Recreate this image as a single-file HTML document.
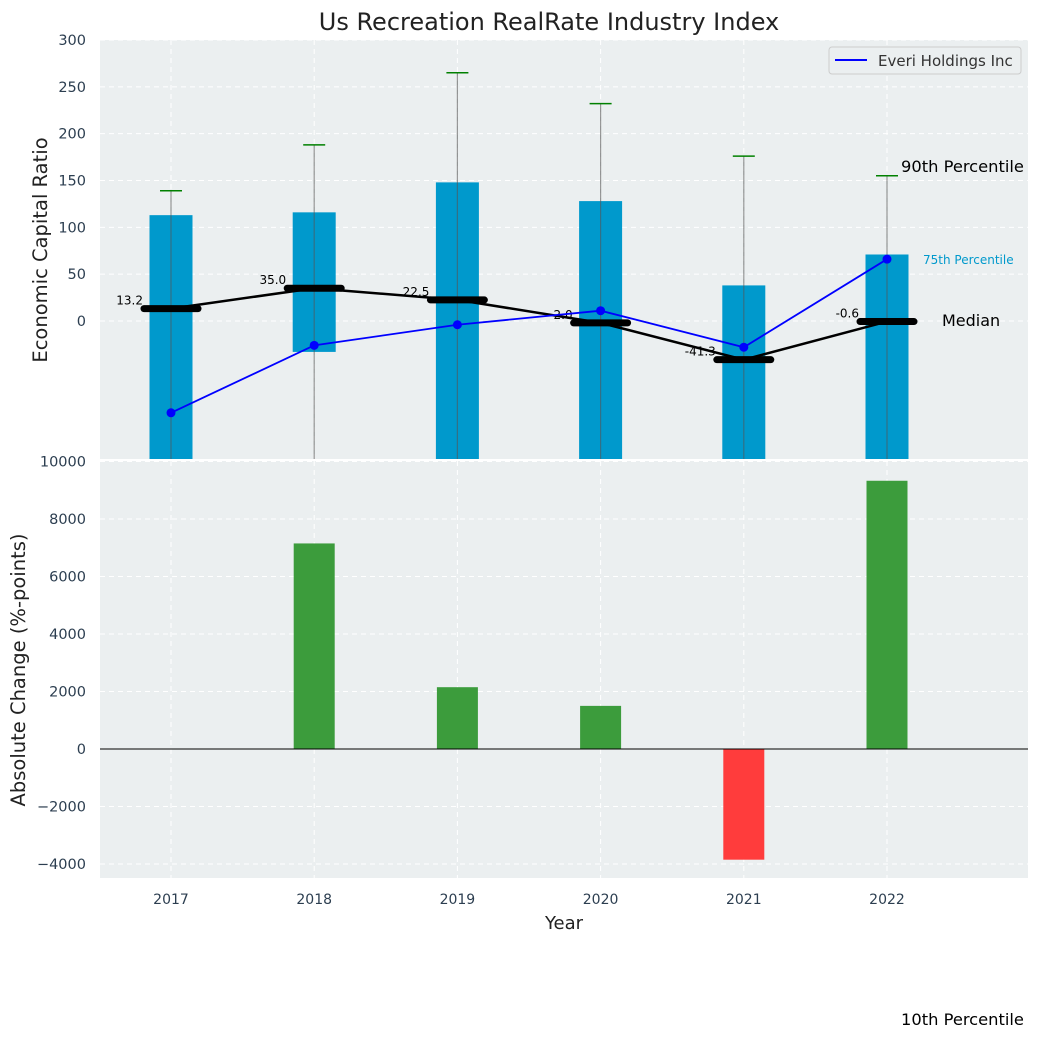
<!DOCTYPE html>
<html><head><meta charset="utf-8"><style>
body{margin:0;background:#fff;font-family:"Liberation Sans","DejaVu Sans",sans-serif}
svg text{font-family:"DejaVu Sans","Liberation Sans",sans-serif}
</style></head><body>
<svg id="c" width="1039" height="1039" xmlns="http://www.w3.org/2000/svg">
<rect width="1039" height="1039" fill="#fff"/>
<text x="549" y="30" font-size="24" text-anchor="middle" fill="#222">Us Recreation RealRate Industry Index</text>
<rect x="100" y="40" width="928" height="419" fill="#ebeff0"/>
<rect x="100" y="461" width="928" height="417" fill="#ebeff0"/>
<g id="topg"></g><g id="botg"></g>
<text transform="translate(47,250) rotate(-90)" font-size="19.5" text-anchor="middle" fill="#222">Economic Capital Ratio</text>
<text transform="translate(25,670) rotate(-90)" font-size="19.5" text-anchor="middle" fill="#222">Absolute Change (%-points)</text>
<text x="564" y="929" font-size="18" text-anchor="middle" fill="#222">Year</text>
<text x="901" y="172" font-size="16.3" fill="#000">90th Percentile</text>
<text x="923" y="264" font-size="12" fill="#0099cc">75th Percentile</text>
<text x="942" y="326" font-size="16" fill="#000">Median</text>
<text x="901" y="1025" font-size="16.3" fill="#000">10th Percentile</text>
<g>
<rect x="829" y="47" width="192" height="27" rx="3" fill="#ebeff0" stroke="#ccc"/>
<line x1="835" y1="60" x2="867" y2="60" stroke="#0000ff" stroke-width="2"/>
<text x="878" y="66" font-size="15" fill="#333">Everi Holdings Inc</text>
</g>
</svg>
<script>
const years=["2017","2018","2019","2020","2021","2022"];
const p10=[-200,-200,-200,-200,-200,-200];
const p25=[-200,-33,-200,-200,-200,-200];
const p75=[113,116,148,128,38,71];
const p90=[139,188,265,232,176,155];
const median=[13.2,35.0,22.5,-2.0,-41.3,-0.6];
const medianLabels=["13.2","35.0","22.5","-2.0","-41.3","-0.6"];
const everi=[-98,-26,-4,11,-28,66];
const change=[0,7150,2150,1500,-3850,9330];
const topTicks=[0,50,100,150,200,250,300];
const botTicks=[-4000,-2000,0,2000,4000,6000,8000,10000];
const NS="http://www.w3.org/2000/svg";
const X=i=>171+i*143.2;
const Yt=v=>321-v*0.9367;
const Yb=v=>749-v*0.02875;
const topG=document.getElementById('topg'),botG=document.getElementById('botg');
function mk(p,t,a){const e=document.createElementNS(NS,t);for(const k in a)e.setAttribute(k,a[k]);p.appendChild(e);return e;}
topTicks.forEach(v=>{const l=mk(topG,'line',{x1:100,x2:1028,y1:Yt(v),y2:Yt(v),stroke:'#fff','stroke-dasharray':'5,4'});


const t=mk(topG,'text',{x:86,y:Yt(v)+5,'font-size':14.5,fill:'#2c3e50','text-anchor':'end'});t.textContent=v;

});
botTicks.forEach(v=>{const l=mk(botG,'line',{x1:100,x2:1028,y1:Yb(v),y2:Yb(v),stroke:'#fff','stroke-dasharray':'5,4'});


const t=mk(botG,'text',{x:86,y:Yb(v)+5,'font-size':14.5,fill:'#2c3e50','text-anchor':'end'});t.textContent=(v<0?'\u2212'+(-v):v);

});
years.forEach((y,i)=>{[[topG,40,459],[botG,461,878]].forEach(([g,a,b])=>{const l=mk(g,'line',{x1:X(i),x2:X(i),y1:a,y2:b,stroke:'#fff','stroke-dasharray':'5,4'});

});
const t=mk(botG,'text',{x:X(i),y:904,'font-size':14,fill:'#2c3e50','text-anchor':'middle'});t.textContent=y;

});
const cl=mk(topG,'clipPath',{id:'ct'});mk(cl,'rect',{x:100,y:40,width:928,height:419});
const tg=mk(topG,'g',{'clip-path':'url(#ct)'});
years.forEach((y,i)=>{
 const b=mk(tg,'rect',{x:X(i)-21.5,width:43,y:Yt(p75[i]),height:Yt(p25[i])-Yt(p75[i]),fill:'#0099cc'});
 
 
 const w=mk(tg,'line',{x1:X(i),x2:X(i),y1:Yt(p90[i]),y2:Yt(p10[i]),stroke:'#555','stroke-opacity':0.6,'stroke-width':1.2});
 
 
 const c=mk(tg,'line',{x1:X(i)-11,x2:X(i)+11,y1:Yt(p90[i]),y2:Yt(p90[i]),stroke:'#008000','stroke-width':1.5});
 
 
});
const mp=mk(tg,'polyline',{points:median.map((v,i)=>X(i)+','+Yt(v)).join(' '),fill:'none',stroke:'#000','stroke-width':2.5});


median.forEach((v,i)=>{const m=mk(tg,'line',{x1:X(i)-27,x2:X(i)+27,y1:Yt(v),y2:Yt(v),stroke:'#000','stroke-width':7,'stroke-linecap':'round'});


const t=mk(tg,'text',{x:X(i)-28,y:Yt(v)-4,'font-size':12,fill:'#000','text-anchor':'end'});t.textContent=medianLabels[i];

});
const ep=mk(tg,'polyline',{points:everi.map((v,i)=>X(i)+','+Yt(v)).join(' '),fill:'none',stroke:'#0000ff','stroke-width':1.8});


everi.forEach((v,i)=>{const d=mk(tg,'circle',{cx:X(i),cy:Yt(v),r:4.5,fill:'#0000ff'});

});
change.forEach((v,i)=>{if(!v)return;const r=mk(botG,'rect',{x:X(i)-20.5,width:41,y:Math.min(Yb(v),Yb(0)),height:Math.abs(Yb(v)-Yb(0)),fill:v>0?'#3c9c3c':'#ff3c3c'});

});
const z=mk(botG,'line',{x1:100,x2:1028,y1:Yb(0),y2:Yb(0),stroke:'#000','stroke-width':1});


</script>
</body></html>
